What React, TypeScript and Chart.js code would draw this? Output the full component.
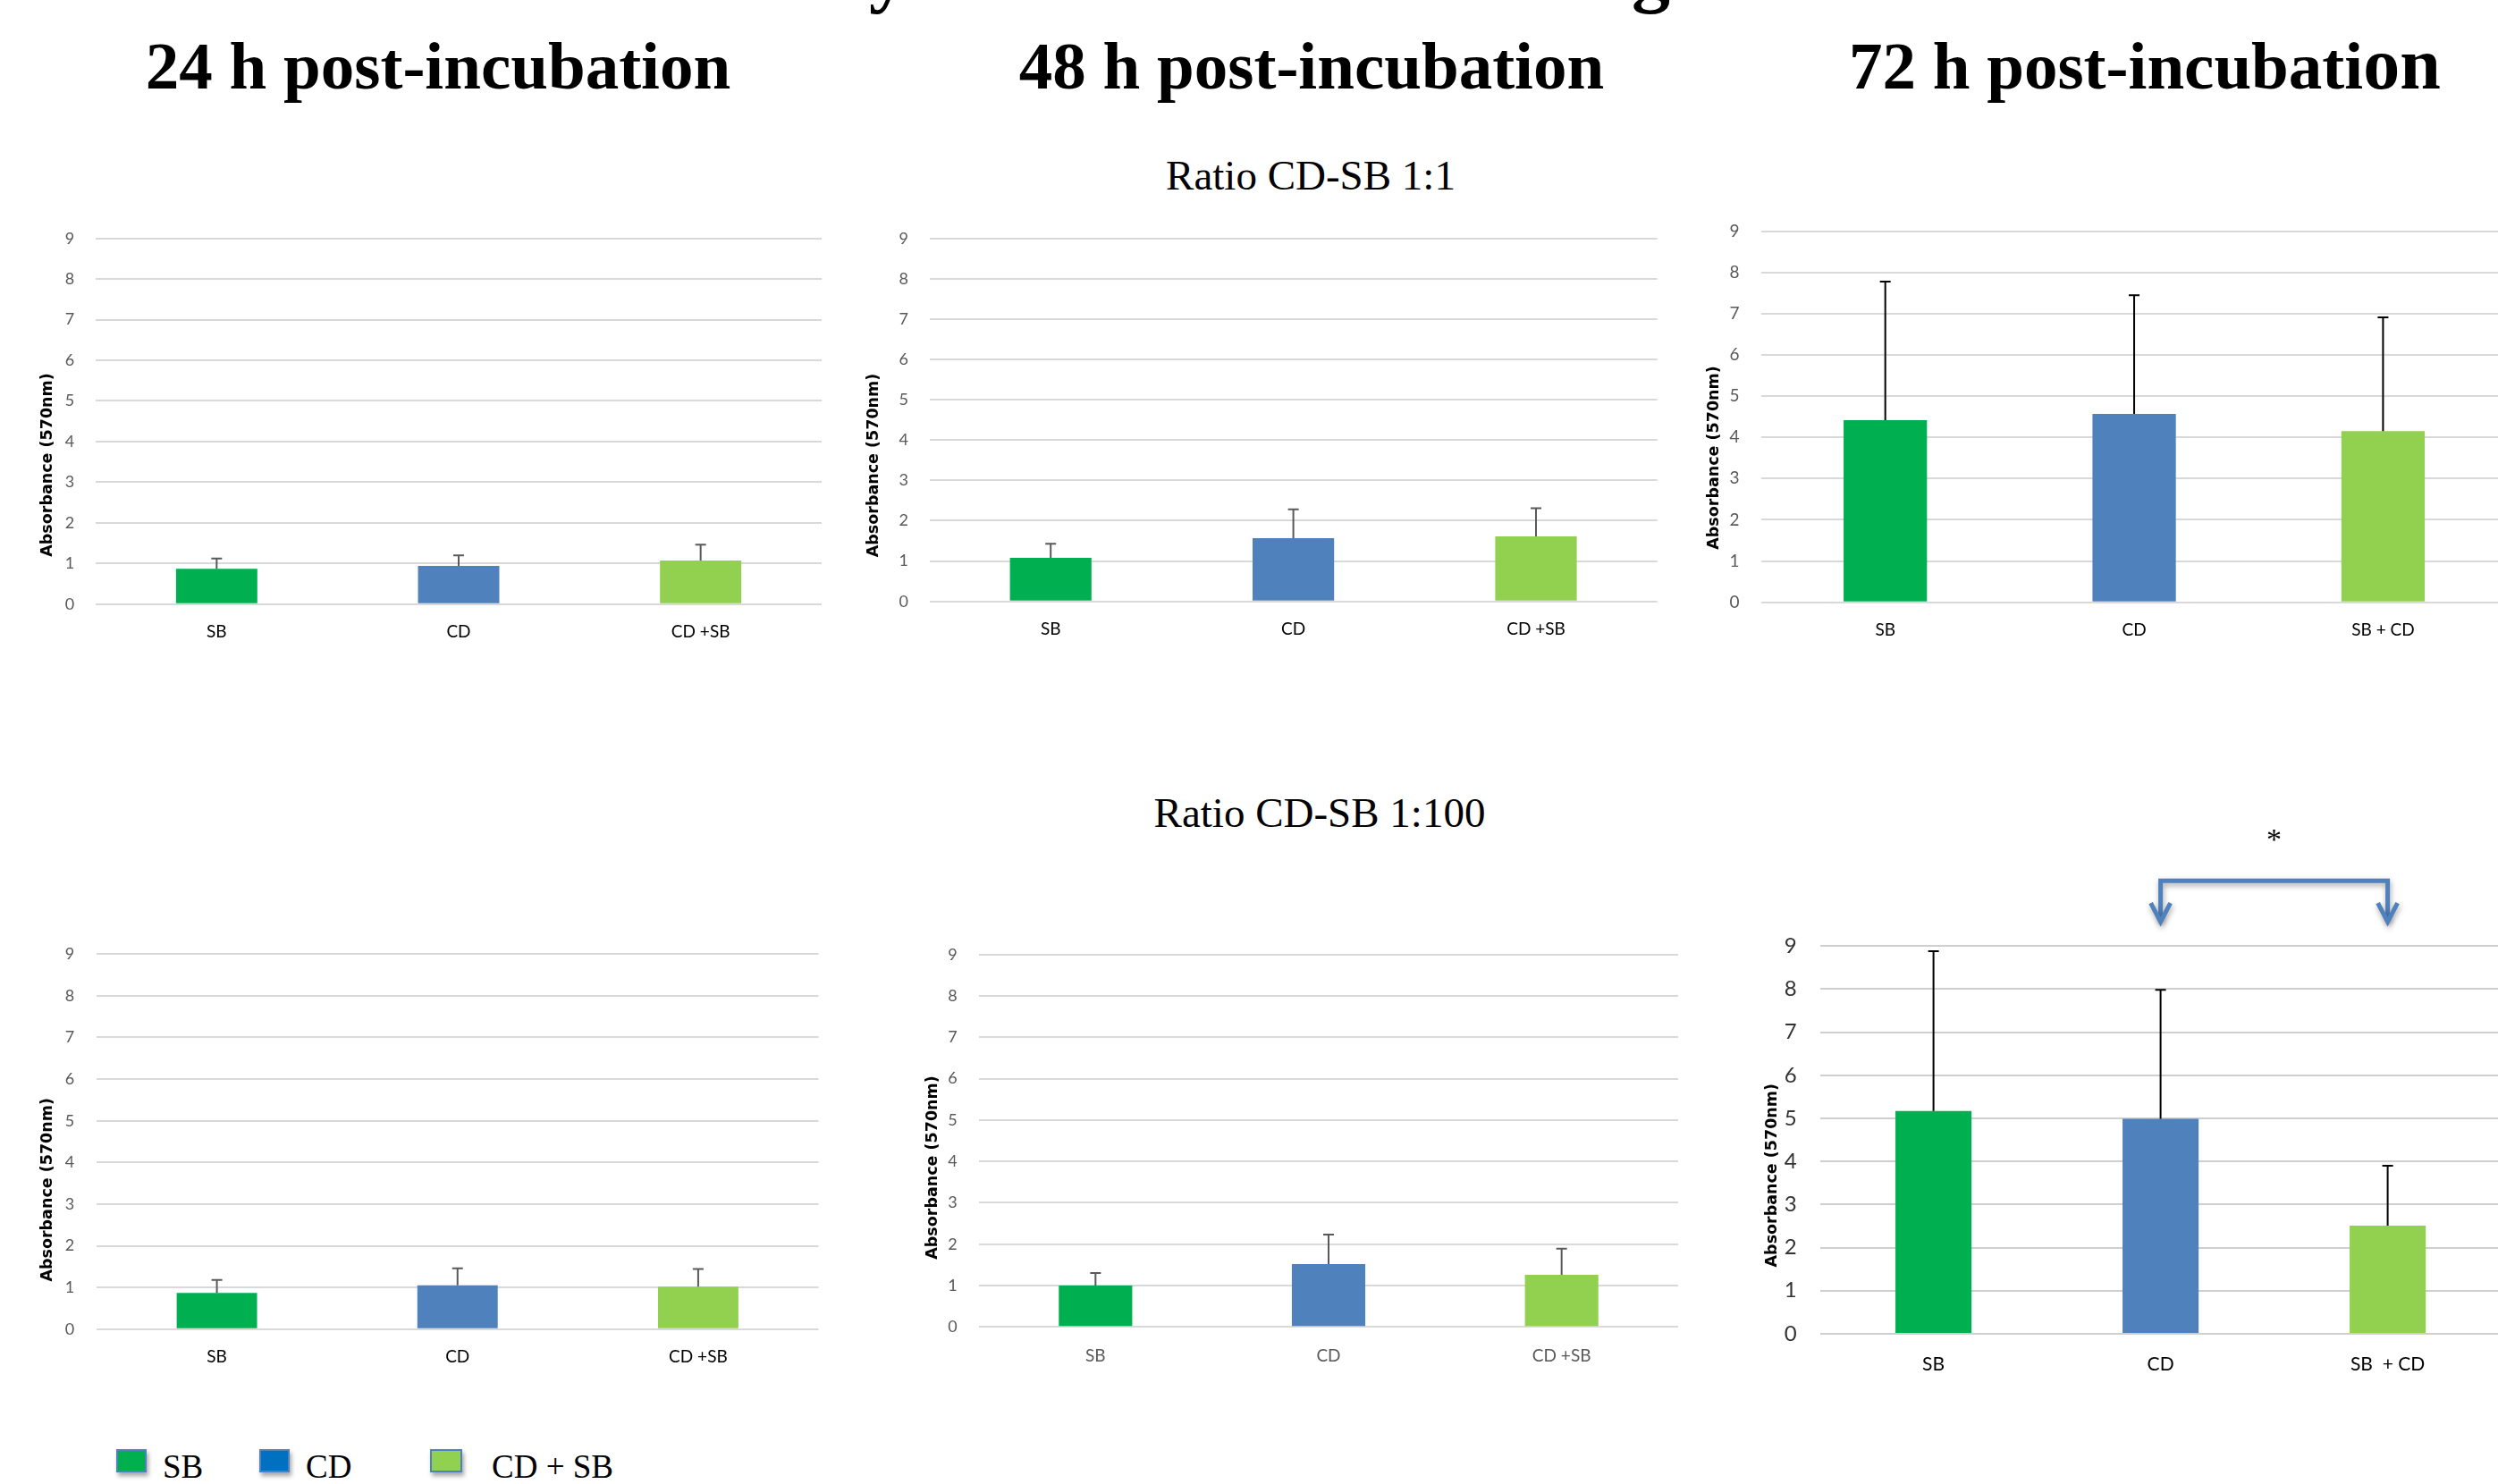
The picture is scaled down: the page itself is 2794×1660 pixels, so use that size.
import React, { useEffect, useRef } from "react";
import { Chart, registerables } from "chart.js";

Chart.register(...registerables);

// ---------------- data ----------------
const GROUPS_A = ["SB", "CD", "CD +SB"];
const GROUPS_72_1 = ["SB", "CD", "SB + CD"];
const GROUPS_72_100 = ["SB", "CD", "SB  + CD"];

const MEAN_24H_1_1 = [0.87, 0.94, 1.07];
const SD_24H_1_1 = [0.25, 0.26, 0.39];
const MEAN_48H_1_1 = [1.08, 1.57, 1.61];
const SD_48H_1_1 = [0.35, 0.71, 0.7];
const MEAN_72H_1_1 = [4.42, 4.57, 4.15];
const SD_72H_1_1 = [3.36, 2.88, 2.76];

const MEAN_24H_1_100 = [0.87, 1.05, 1.02];
const SD_24H_1_100 = [0.31, 0.41, 0.42];
const MEAN_48H_1_100 = [1.0, 1.52, 1.26];
const SD_48H_1_100 = [0.3, 0.71, 0.63];
const MEAN_72H_1_100 = [5.17, 4.99, 2.51];
const SD_72H_1_100 = [3.71, 2.99, 1.39];

const Y_MIN = 0;
const Y_MAX = 9;
const Y_STEP = 1;

const MAIN_TITLE = "Cell Viability of CD and SB Staining";
const TIME_TITLES = ["24 h post-incubation", "48 h post-incubation", "72 h post-incubati"];
const TIME_TITLE_TAIL = "on";
const RATIO_TITLES = ["Ratio CD-SB 1:1", "Ratio CD-SB 1:100"];
const LEGEND_LABELS = ["SB", "CD", "CD + SB"];
const Y_TITLE = "Absorbance (570nm)";
const SIGNIFICANCE = "*";

const BAR_COLORS = ["#00B050", "#4F81BD", "#92D050"];
const LEGEND_COLORS = ["#00B050", "#0070C0", "#92D050"];

// ---------------- styling / layout ----------------
const SANS = "Lato, 'Open Sans', sans-serif";
const TITLE_FONT = "'DejaVu Sans', sans-serif";
const SERIF = "'Liberation Serif', 'Times New Roman', serif";
const HX = 70;

type PanelCfg = {
  labels: string[];
  means: number[];
  sd: number[];
  L: number; R: number; T: number; B: number;
  tickX: number; titleX: number; titleY: number; labelY: number;
  tickSize: number; labelSize: number;
  tickColor: string; labelColor: string; errColor: string; gridColor: string;
  barPct: number; padTop: number; bracket?: boolean;
};

const PANELS: PanelCfg[] = [
  { labels: GROUPS_A, means: MEAN_24H_1_1, sd: SD_24H_1_1,
    L: 107, R: 919, T: 266.7, B: 675.7, tickX: 78, titleX: 53, titleY: 520, labelY: 707,
    tickSize: 18, labelSize: 19, tickColor: "#595959", labelColor: "#000000", errColor: "#595959",
    gridColor: "#D9D9D9", barPct: 0.336, padTop: 44 },
  { labels: GROUPS_A, means: MEAN_48H_1_1, sd: SD_48H_1_1,
    L: 1039.5, R: 1853.7, T: 266.7, B: 672.7, tickX: 1010.7, titleX: 977, titleY: 520.5, labelY: 704,
    tickSize: 18, labelSize: 19, tickColor: "#595959", labelColor: "#000000", errColor: "#595959",
    gridColor: "#D9D9D9", barPct: 0.336, padTop: 44 },
  { labels: GROUPS_72_1, means: MEAN_72H_1_1, sd: SD_72H_1_1,
    L: 1969.5, R: 2804.6, T: 258.7, B: 673.7, tickX: 1940, titleX: 1917, titleY: 512, labelY: 705,
    tickSize: 19, labelSize: 19, tickColor: "#595959", labelColor: "#000000", errColor: "#000000",
    gridColor: "#D9D9D9", barPct: 0.335, padTop: 44 },
  { labels: GROUPS_A, means: MEAN_24H_1_100, sd: SD_24H_1_100,
    L: 108, R: 915.5, T: 1067.3, B: 1486.7, tickX: 78, titleX: 53, titleY: 1330.8, labelY: 1518,
    tickSize: 18, labelSize: 19, tickColor: "#595959", labelColor: "#000000", errColor: "#595959",
    gridColor: "#D9D9D9", barPct: 0.334, padTop: 44 },
  { labels: GROUPS_A, means: MEAN_48H_1_100, sd: SD_48H_1_100,
    L: 1095, R: 1877, T: 1067.7, B: 1484.3, tickX: 1065.5, titleX: 1043, titleY: 1306, labelY: 1516.7,
    tickSize: 18, labelSize: 19, tickColor: "#595959", labelColor: "#595959", errColor: "#595959",
    gridColor: "#D9D9D9", barPct: 0.315, padTop: 44 },
  { labels: GROUPS_72_100, means: MEAN_72H_1_100, sd: SD_72H_1_100,
    L: 2035.6, R: 2797.6, T: 1058.2, B: 1491.9, tickX: 2002.6, titleX: 1982.7, titleY: 1314.7, labelY: 1526,
    tickSize: 24, labelSize: 21, tickColor: "#333333", labelColor: "#000000", errColor: "#000000",
    gridColor: "#CFCFCF", barPct: 0.335, padTop: 180, bracket: true },
];

// ---------------- plugins ----------------
const errorBarsPlugin = {
  id: "errorBars",
  afterDatasetsDraw(chart: any, _args: any, opts: any) {
    const { ctx } = chart;
    const y = chart.scales.y;
    const meta = chart.getDatasetMeta(0);
    const values = chart.data.datasets[0].data as number[];
    const sd = opts.sd as number[];
    ctx.save();
    ctx.strokeStyle = opts.color;
    ctx.lineWidth = 2;
    meta.data.forEach((bar: any, i: number) => {
      const base = y.getPixelForValue(values[i]);
      const top = y.getPixelForValue(values[i] + sd[i]);
      const x = bar.x;
      ctx.beginPath();
      ctx.moveTo(x, base);
      ctx.lineTo(x, top);
      ctx.moveTo(x - 6, top);
      ctx.lineTo(x + 6, top);
      ctx.stroke();
    });
    ctx.restore();
  },
};

const yTitlePlugin = {
  id: "yTitle",
  afterDraw(chart: any, _args: any, opts: any) {
    const { ctx } = chart;
    ctx.save();
    ctx.translate(opts.x, opts.y);
    ctx.rotate(-Math.PI / 2);
    ctx.font = `bold 17.5px ${TITLE_FONT}`;
    ctx.fillStyle = "#000000";
    ctx.textAlign = "center";
    ctx.textBaseline = "middle";
    ctx.fillText(opts.text, 0, 0);
    ctx.restore();
  },
};

const bracketPlugin = {
  id: "bracket",
  afterDraw(chart: any, _args: any, opts: any) {
    if (!opts || !opts.show) return;
    const { ctx, chartArea } = chart;
    const meta = chart.getDatasetMeta(0);
    const x1 = meta.data[1].x;
    const x2 = meta.data[2].x;
    const yTop = chartArea.top - 73;
    const yTip = chartArea.top - 27;
    ctx.save();
    ctx.shadowColor = "rgba(0,0,0,0.35)";
    ctx.shadowBlur = 6;
    ctx.shadowOffsetX = 1;
    ctx.shadowOffsetY = 3;
    ctx.strokeStyle = "#4F81BD";
    ctx.lineWidth = 5;
    ctx.lineJoin = "miter";
    ctx.lineCap = "butt";
    ctx.beginPath();
    ctx.moveTo(x1, yTip - 2);
    ctx.lineTo(x1, yTop);
    ctx.lineTo(x2, yTop);
    ctx.lineTo(x2, yTip - 2);
    ctx.stroke();
    [x1, x2].forEach((x) => {
      ctx.beginPath();
      ctx.moveTo(x - 11, yTip - 21);
      ctx.lineTo(x, yTip);
      ctx.lineTo(x + 11, yTip - 21);
      ctx.stroke();
    });
    ctx.restore();
    ctx.save();
    ctx.fillStyle = "#000000";
    ctx.font = `34px ${SERIF}`;
    ctx.textAlign = "center";
    ctx.textBaseline = "alphabetic";
    ctx.fillText(opts.mark, (x1 + x2) / 2, chartArea.top - 108);
    ctx.restore();
  },
};

function Panel({ cfg }: { cfg: PanelCfg }) {
  const ref = useRef<HTMLCanvasElement>(null);
  const left = Math.floor(cfg.titleX - 16);
  const top = Math.floor(cfg.T - cfg.padTop);
  const width = Math.ceil(cfg.R - left);
  const height = Math.ceil(cfg.B - top + HX);

  useEffect(() => {
    if (!ref.current) return;
    const wy = cfg.L - left;
    const padTop = cfg.T - top;
    const padBottom = height - (cfg.B - top) - HX;
    const padRight = width - (cfg.R - left);
    const chart = new Chart(ref.current, {
      type: "bar",
      data: {
        labels: cfg.labels,
        datasets: [
          {
            data: cfg.means,
            backgroundColor: BAR_COLORS,
            borderWidth: 0,
            barPercentage: cfg.barPct,
            categoryPercentage: 1,
          },
        ],
      },
      options: {
        responsive: false,
        animation: false,
        devicePixelRatio: 1,
        layout: { padding: { top: padTop, left: 0, right: padRight, bottom: padBottom } },
        plugins: {
          legend: { display: false },
          tooltip: { enabled: false },
          title: { display: false },
          errorBars: { sd: cfg.sd, color: cfg.errColor },
          yTitle: { text: Y_TITLE, x: cfg.titleX - left, y: cfg.titleY - top },
          bracket: { show: !!cfg.bracket, mark: SIGNIFICANCE },
        } as any,
        scales: {
          x: {
            grid: { display: false, drawTicks: false },
            border: { display: false },
            ticks: {
              color: cfg.labelColor,
              font: { family: SANS, size: cfg.labelSize },
              padding: cfg.labelY - cfg.B - 0.6 * cfg.labelSize,
              maxRotation: 0,
              autoSkip: false,
            },
            afterFit: (s: any) => {
              s.height = HX;
            },
          },
          y: {
            min: Y_MIN,
            max: Y_MAX,
            grid: { color: cfg.gridColor, lineWidth: 2, drawTicks: false },
            border: { display: false },
            ticks: {
              stepSize: Y_STEP,
              color: cfg.tickColor,
              font: { family: SANS, size: cfg.tickSize },
              padding: cfg.L - cfg.tickX - cfg.tickSize * 0.29,
            },
            afterFit: (s: any) => {
              s.width = wy;
            },
          },
        },
      } as any,
      plugins: [errorBarsPlugin, yTitlePlugin, bracketPlugin],
    });
    return () => chart.destroy();
  }, []);

  return (
    <canvas
      ref={ref}
      width={width}
      height={height}
      style={{ position: "absolute", left, top, width, height }}
    />
  );
}

export default function App() {
  return (
    <div
      style={{
        position: "fixed",
        left: 0,
        top: 0,
        width: 2794,
        height: 1660,
        overflow: "hidden",
        background: "#ffffff",
      }}
    >
      <svg width={2794} height={1660} style={{ position: "absolute", left: 0, top: 0 }}>
        <defs>
          <filter id="legShadow" x="-40%" y="-40%" width="180%" height="200%">
            <feDropShadow dx="2" dy="4" stdDeviation="2.5" floodColor="#000" floodOpacity="0.35" />
          </filter>
        </defs>
        <text x={530} y={-3} fontFamily={SERIF} fontWeight="bold" fontSize={86} fill="#000">
          {MAIN_TITLE}
        </text>
        <text x={490} y={99} textAnchor="middle" fontFamily={SERIF} fontWeight="bold" fontSize={75} fill="#000">
          {TIME_TITLES[0]}
        </text>
        <text x={1467} y={99} textAnchor="middle" fontFamily={SERIF} fontWeight="bold" fontSize={75} fill="#000">
          {TIME_TITLES[1]}
        </text>
        <text x={2068} y={99} textAnchor="start" fontFamily={SERIF} fontWeight="bold" fontSize={75} fill="#000">
          {TIME_TITLES[2]}
          <tspan fontSize={82}>{TIME_TITLE_TAIL}</tspan>
        </text>
        <text x={1466} y={212} textAnchor="middle" fontFamily={SERIF} fontSize={47} fill="#000">
          {RATIO_TITLES[0]}
        </text>
        <text x={1476} y={925} textAnchor="middle" fontFamily={SERIF} fontSize={47} fill="#000">
          {RATIO_TITLES[1]}
        </text>
        {[131, 291, 482].map((x, i) => (
          <rect
            key={"sq" + i}
            x={x}
            y={1622}
            width={i === 2 ? 34 : 32}
            height={24}
            fill={LEGEND_COLORS[i]}
            stroke="#4F81BD"
            strokeWidth={2}
            filter="url(#legShadow)"
          />
        ))}
        {[182, 342, 550].map((x, i) => (
          <text key={"lt" + i} x={x} y={1653} fontFamily={SERIF} fontSize={37} fill="#000">
            {LEGEND_LABELS[i]}
          </text>
        ))}
      </svg>
      {PANELS.map((p, i) => (
        <Panel key={i} cfg={p} />
      ))}
    </div>
  );
}
